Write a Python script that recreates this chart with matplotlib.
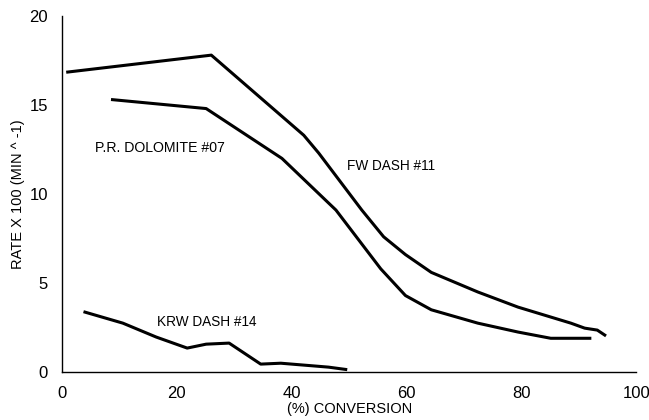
import matplotlib
matplotlib.use("Agg")
import matplotlib.pyplot as plt

plt.rcParams['font.family'] = ['Liberation Sans', 'DejaVu Sans']

fw_x = [1.0, 26.0, 42.1, 44.7, 52.2, 56.0, 59.8, 64.3, 72.4, 79.4, 88.6, 91.0, 93.2, 94.5]
fw_y = [16.85, 17.8, 13.3, 12.3, 9.1, 7.6, 6.6, 5.6, 4.5, 3.65, 2.75, 2.47, 2.36, 2.08]

pr_x = [8.8, 25.1, 38.3, 46.4, 47.7, 55.5, 59.8, 64.3, 72.4, 79.4, 85.1, 91.9]
pr_y = [15.3, 14.8, 12.0, 9.5, 9.1, 5.8, 4.3, 3.5, 2.75, 2.25, 1.9, 1.9]

krw_x = [4.0, 10.6, 16.4, 21.8, 25.1, 29.1, 34.6, 38.1, 46.4, 49.4]
krw_y = [3.37, 2.75, 1.97, 1.35, 1.57, 1.63, 0.45, 0.5, 0.28, 0.15]

xticks = [0, 20, 40, 60, 80, 100]
yticks = [0, 5, 10, 15, 20]

fig = plt.figure(figsize=(6.49, 4.2), dpi=100)
ax = fig.add_axes([0.0955, 0.114, 0.885, 0.848])

for xs, ys in [(fw_x, fw_y), (pr_x, pr_y), (krw_x, krw_y)]:
    ax.plot(xs, ys, color='black', lw=2.2, solid_joinstyle='round')

ax.set_xlim(0, 100)
ax.set_ylim(0, 20)
ax.set_xticks(xticks)
ax.set_yticks(yticks)
ax.tick_params(labelsize=12, length=0, pad=10)
for s in ['top', 'right']:
    ax.spines[s].set_visible(False)
ax.spines['left'].set_linewidth(1.0)
ax.spines['bottom'].set_linewidth(1.0)

ax.set_xlabel('(%) CONVERSION', fontsize=10.5, labelpad=1)
ax.set_ylabel('RATE X 100 (MIN ^ -1)', fontsize=10.5, labelpad=3.5)

ax.text(17, 12.6, 'P.R. DOLOMITE #07', fontsize=10.2, ha='center', va='center')
ax.text(49.7, 11.6, 'FW DASH #11', fontsize=9.8, ha='left', va='center')
ax.text(16.5, 2.8, 'KRW DASH #14', fontsize=9.8, ha='left', va='center')

fig.savefig('out.png', dpi=100)
